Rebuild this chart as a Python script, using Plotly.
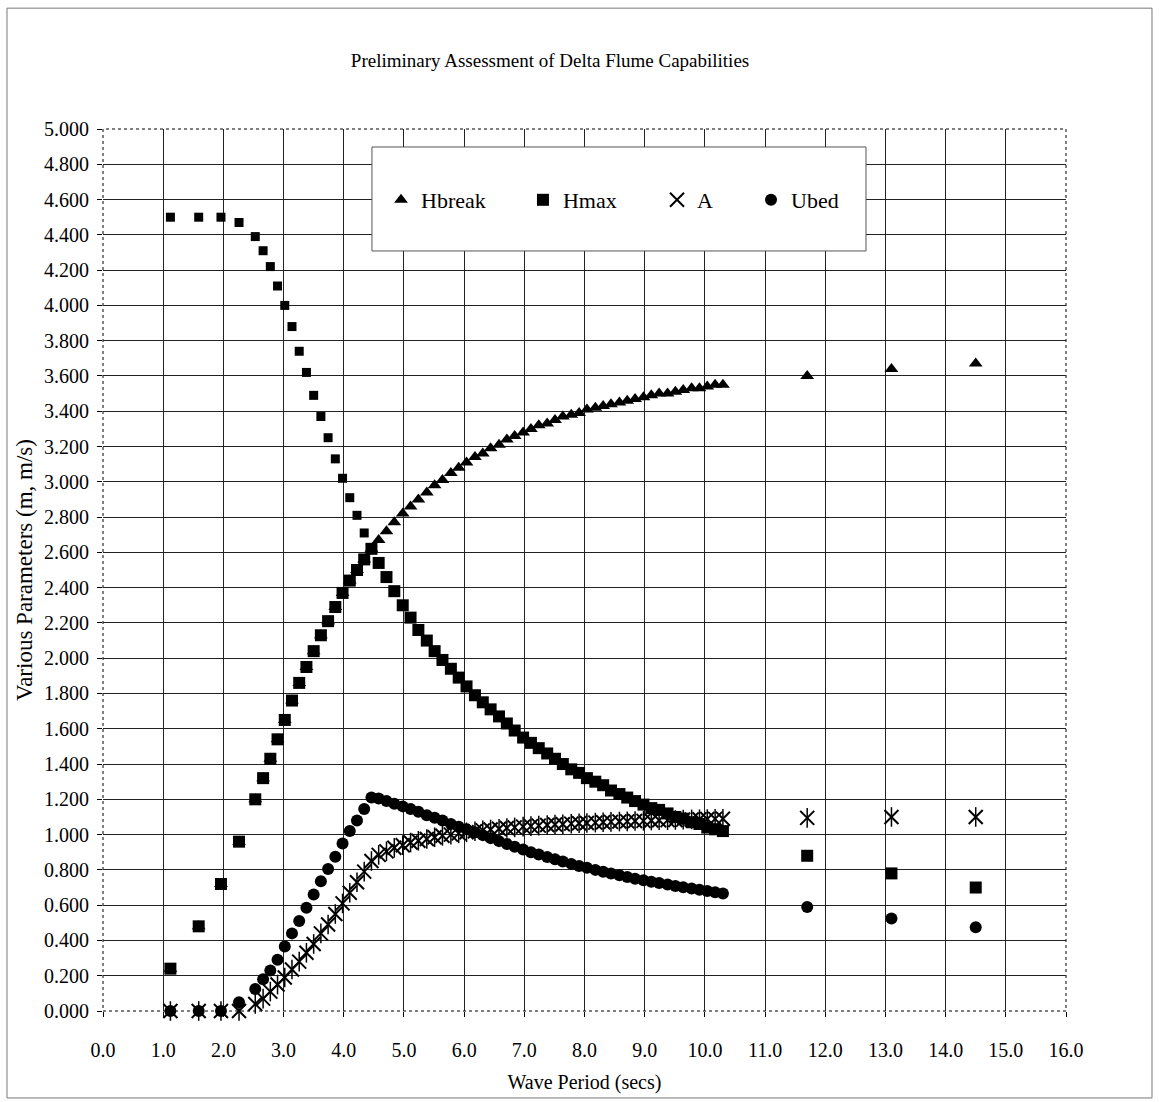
import plotly.graph_objects as go

# ---- data ----
periods = [1.12, 1.59, 1.96, 2.26, 2.53, 2.66, 2.78, 2.90, 3.02, 3.14, 3.26, 3.38, 3.50, 3.62,
           3.74, 3.86, 3.98, 4.10, 4.22, 4.34, 4.46, 4.58, 4.71, 4.84, 4.98, 5.11, 5.24, 5.38,
           5.51, 5.64, 5.78, 5.91, 6.04, 6.18, 6.31, 6.44, 6.58, 6.71, 6.84, 6.98, 7.11, 7.24,
           7.38, 7.51, 7.64, 7.78, 7.91, 8.04, 8.18, 8.31, 8.44, 8.58, 8.71, 8.84, 8.98, 9.11,
           9.24, 9.38, 9.51, 9.64, 9.78, 9.91, 10.04, 10.17, 10.30, 11.70, 13.10, 14.50]

hbreak = [0.24, 0.48, 0.72, 0.96, 1.20, 1.32, 1.43, 1.54, 1.65, 1.76, 1.86, 1.95, 2.04, 2.13,
          2.21, 2.29, 2.37, 2.44, 2.50, 2.56, 2.62,
          2.67, 2.72, 2.77, 2.82, 2.86, 2.90, 2.94, 2.98, 3.01, 3.05, 3.08, 3.11, 3.14, 3.16,
          3.19, 3.21, 3.24, 3.26, 3.28, 3.30, 3.32, 3.33, 3.35, 3.37, 3.38, 3.39, 3.41, 3.42,
          3.43, 3.44, 3.45, 3.46, 3.47, 3.48, 3.49, 3.50, 3.50, 3.51, 3.52, 3.53, 3.53, 3.54,
          3.55, 3.55, 3.60, 3.64, 3.67]

hmax = [0.24, 0.48, 0.72, 0.96, 1.20, 1.32, 1.43, 1.54, 1.65, 1.76, 1.86, 1.95, 2.04, 2.13,
        2.21, 2.29, 2.37, 2.44, 2.50, 2.56, 2.62,
        2.54, 2.46, 2.38, 2.30, 2.23, 2.16, 2.10, 2.04, 1.99, 1.94, 1.89, 1.84, 1.79, 1.75,
        1.71, 1.67, 1.63, 1.59, 1.55, 1.52, 1.49, 1.46, 1.43, 1.40, 1.37, 1.35, 1.32, 1.30,
        1.28, 1.25, 1.23, 1.21, 1.19, 1.17, 1.15, 1.14, 1.12, 1.10, 1.09, 1.07, 1.06, 1.04,
        1.03, 1.02, 0.88, 0.78, 0.70]

# upper (paddle-limited) squares at the short periods
hpaddle = [4.50, 4.50, 4.50, 4.47, 4.39, 4.31, 4.22, 4.11, 4.00, 3.88, 3.74, 3.62, 3.49, 3.37,
           3.25, 3.13, 3.02, 2.91, 2.81, 2.71]

a_amp = [0.0, 0.0, 0.0, 0.0, 0.04, 0.07, 0.11, 0.15, 0.19, 0.235, 0.28, 0.33, 0.38, 0.44,
         0.49, 0.55, 0.61, 0.67, 0.73, 0.79, 0.85,
         0.885, 0.905, 0.925, 0.94, 0.955, 0.965, 0.975, 0.985, 0.993, 1.000, 1.007, 1.013,
         1.019, 1.024, 1.029, 1.033, 1.037, 1.041, 1.045, 1.048, 1.051, 1.054, 1.057, 1.059,
         1.062, 1.064, 1.066, 1.068, 1.070, 1.072, 1.074, 1.075, 1.077, 1.078, 1.080, 1.081,
         1.082, 1.083, 1.085, 1.086, 1.087, 1.088, 1.089, 1.090, 1.095, 1.10, 1.10]

ubed = [0.0, 0.0, 0.0, 0.05, 0.125, 0.18, 0.23, 0.29, 0.365, 0.44, 0.51, 0.585, 0.66, 0.735,
        0.805, 0.875, 0.95, 1.02, 1.08, 1.145, 1.21,
        1.205, 1.19, 1.175, 1.16, 1.145, 1.13, 1.11, 1.095, 1.08, 1.06, 1.045, 1.03, 1.013,
        0.997, 0.98, 0.963, 0.947, 0.931, 0.915, 0.90, 0.887, 0.873, 0.86, 0.847, 0.834,
        0.822, 0.812, 0.80, 0.79, 0.78, 0.77, 0.76, 0.75, 0.741, 0.733, 0.725, 0.717, 0.709,
        0.701, 0.694, 0.687, 0.68, 0.673, 0.666, 0.59, 0.525, 0.475]

x_ticks = [0.0, 1.0, 2.0, 3.0, 4.0, 5.0, 6.0, 7.0, 8.0, 9.0, 10.0, 11.0, 12.0, 13.0, 14.0, 15.0, 16.0]
y_ticks = [0.0, 0.2, 0.4, 0.6, 0.8, 1.0, 1.2, 1.4, 1.6, 1.8, 2.0, 2.2, 2.4, 2.6, 2.8, 3.0,
           3.2, 3.4, 3.6, 3.8, 4.0, 4.2, 4.4, 4.6, 4.8, 5.0]

FONT = "Liberation Serif"

fig = go.Figure()

fig.add_trace(go.Scatter(x=periods, y=hbreak, mode="markers", name="Hbreak", legend="legend",
                         cliponaxis=False,
                         marker=dict(symbol="triangle-up", size=12, color="black")))
fig.add_trace(go.Scatter(x=periods[:len(hpaddle)], y=hpaddle, mode="markers", name="Hmax limit",
                         showlegend=False, cliponaxis=False,
                         marker=dict(symbol="square", size=9, color="black")))
fig.add_trace(go.Scatter(x=periods, y=hmax, mode="markers", name="Hmax", legend="legend2",
                         cliponaxis=False,
                         marker=dict(symbol="square", size=12, color="black")))
fig.add_trace(go.Scatter(x=periods, y=a_amp, mode="markers", name="A", legend="legend3",
                         cliponaxis=False,
                         marker=dict(symbol="x-thin-open", size=14, color="black",
                                     line=dict(width=2, color="black"))))
fig.add_trace(go.Scatter(x=periods, y=a_amp, mode="markers", name="A", showlegend=False,
                         cliponaxis=False,
                         marker=dict(symbol="line-ns-open", size=14, color="black",
                                     line=dict(width=1.5, color="black"))))
fig.add_trace(go.Scatter(x=periods, y=ubed, mode="markers", name="Ubed", legend="legend4",
                         cliponaxis=False,
                         marker=dict(symbol="circle", size=12, color="black")))

grid = dict(showgrid=True, gridcolor="#222222", gridwidth=1, zeroline=False, showline=False,
            ticks="outside", ticklen=5, tickcolor="black",
            tickfont=dict(family=FONT, size=20, color="black"))

fig.update_xaxes(range=[0, 16], tickvals=x_ticks, tickformat=".1f",
                 title=dict(text="Wave Period (secs)", font=dict(family=FONT, size=20, color="black"),
                            standoff=14),
                 ticklabelstandoff=16, **grid)
fig.update_yaxes(range=[0, 5], tickvals=y_ticks, tickformat=".3f",
                 title=dict(text="Various Parameters (m, m/s)",
                            font=dict(family=FONT, size=23, color="black"), standoff=4),
                 ticklabelstandoff=4, **grid)

leg_common = dict(y=0.9195, yanchor="middle", xanchor="left", bgcolor="rgba(0,0,0,0)",
                  borderwidth=0, font=dict(family=FONT, size=22, color="black"))

fig.update_layout(
    width=1159, height=1102,
    margin=dict(l=103, r=93, t=129, b=91),
    paper_bgcolor="white", plot_bgcolor="white",
    font=dict(family=FONT, color="black"),
    title=dict(text="Preliminary Assessment of Delta Flume Capabilities",
               font=dict(family=FONT, size=19, color="black"),
               xref="paper", x=0.4642, xanchor="center",
               yref="container", y=0.9456, yanchor="middle"),
    legend=dict(x=0.2887, **leg_common),
    legend2=dict(x=0.4361, **leg_common),
    legend3=dict(x=0.5753, **leg_common),
    legend4=dict(x=0.6729, **leg_common),
    shapes=[
        # plot frame (dotted)
        dict(type="rect", xref="paper", yref="paper", x0=0, x1=1, y0=0, y1=1,
             line=dict(color="black", width=1, dash="dot"), layer="below"),
        # legend box
        dict(type="rect", xref="paper", yref="paper", x0=0.2793, x1=0.7923, y0=0.8617, y1=0.9796,
             fillcolor="white", line=dict(color="#555555", width=1), layer="above"),
        # outer chart border
        dict(type="rect", xref="paper", yref="paper", x0=-0.0997, x1=1.0893, y0=-0.0986, y1=1.137,
             line=dict(color="#777777", width=1), layer="below"),
    ],
)

fig.write_html("out.html")
